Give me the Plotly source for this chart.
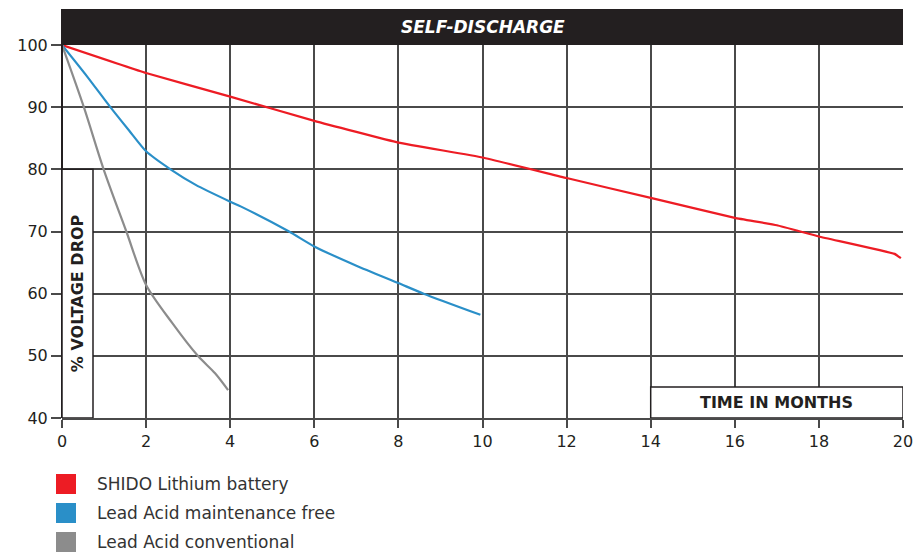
import plotly.graph_objects as go

# ---- data ----
lithium_x = [0, 2, 4, 6, 8, 10, 12, 14, 16, 17, 18, 19.8, 19.95]
lithium_y = [100, 95.5, 91.7, 87.8, 84.3, 81.9, 78.6, 75.4, 72.2, 71.0, 69.2, 66.4, 65.7]

mf_x = [0, 0.59, 1.15, 1.6, 2.0, 2.58, 3.18, 4.0, 4.26, 5.4, 6.0, 7.0, 8.0, 8.6, 9.95]
mf_y = [100, 95.0, 90, 86.2, 82.9, 80, 77.5, 74.8, 74.0, 70, 67.6, 64.5, 61.7, 60, 56.6]

conv_x = [0, 0.52, 0.99, 1.53, 2.0, 2.62, 3.23, 3.64, 3.95]
conv_y = [100, 90, 80, 70, 61.4, 55.3, 50, 47.2, 44.5]

series_names = ["SHIDO Lithium battery", "Lead Acid maintenance free", "Lead Acid conventional"]
series_colors = ["#ED1C24", "#2A8FC8", "#8C8C8C"]

x_ticks = [0, 2, 4, 6, 8, 10, 12, 14, 16, 18, 20]
y_ticks = [40, 50, 60, 70, 80, 90, 100]

title_text = "SELF-DISCHARGE"
y_label = "% VOLTAGE DROP"
x_label = "TIME IN MONTHS"

TXT = "#231F20"
GRID = "#4a4a4a"
FONT = "DejaVu Sans"
PLOT_W, PLOT_H = 841, 373

fig = go.Figure()
for xs, ys, col, smooth in zip([lithium_x, mf_x, conv_x], [lithium_y, mf_y, conv_y],
                               series_colors, [0.3, 0.6, 0.8]):
    fig.add_trace(go.Scatter(x=xs, y=ys, mode="lines",
                             line=dict(color=col, width=2.2, shape="spline", smoothing=smooth),
                             showlegend=False, hoverinfo="skip"))

# title band
fig.add_shape(type="rect", xref="paper", yref="paper", x0=0, x1=1, y0=1, y1=1 + 36 / PLOT_H,
              fillcolor="#231F20", line=dict(width=0), layer="above")
fig.add_annotation(xref="paper", yref="paper", x=0.5, y=1 + 18 / PLOT_H,
                   xanchor="center", yanchor="middle",
                   text="<b><i>" + title_text + "</i></b>",
                   showarrow=False, font=dict(family=FONT, size=17, color="white"))
# left frame line up through title band
fig.add_shape(type="line", xref="paper", yref="paper", x0=0, x1=0, y0=0, y1=1 + 36 / PLOT_H,
              line=dict(color="#231F20", width=2), layer="above")

# y-label box
fig.add_shape(type="rect", xref="paper", yref="y", x0=0, x1=31 / PLOT_W, y0=40, y1=80,
              fillcolor="white", line=dict(color=TXT, width=1.5), layer="above")
fig.add_annotation(xref="paper", yref="y", x=15.5 / PLOT_W, y=60, xanchor="center", yanchor="middle",
                   text="<b>" + y_label + "</b>",
                   textangle=-90, showarrow=False, font=dict(family=FONT, size=16, color=TXT))

# x-label box
fig.add_shape(type="rect", xref="x", yref="y", x0=14, x1=20, y0=40, y1=45,
              fillcolor="white", line=dict(color=TXT, width=1.5), layer="above")
fig.add_annotation(xref="x", yref="y", x=17, y=42.5, xanchor="center", yanchor="middle",
                   text="<b>" + x_label + "</b>",
                   showarrow=False, font=dict(family=FONT, size=16, color=TXT))

# manual legend (squares + labels) below the plot
for i, (name, col) in enumerate(zip(series_names, series_colors)):
    yc = -(66 + 29 * i) / PLOT_H
    fig.add_shape(type="rect", xref="paper", yref="paper",
                  x0=-6 / PLOT_W, x1=14 / PLOT_W, y0=yc - 10 / PLOT_H, y1=yc + 10 / PLOT_H,
                  fillcolor=col, line=dict(width=0))
    fig.add_annotation(xref="paper", yref="paper", x=33 / PLOT_W, y=yc, xanchor="left",
                       yanchor="middle", text=name, showarrow=False,
                       font=dict(family=FONT, size=17, color="#333333"))

# page body has an 8px default margin, so the figure is sized/offset to compensate
fig.update_layout(
    width=913, height=546,
    margin=dict(l=54, r=18, t=37, b=136),
    paper_bgcolor="white", plot_bgcolor="white",
    font=dict(family=FONT, color=TXT),
    showlegend=False,
    xaxis=dict(range=[0, 20], tickvals=x_ticks, showgrid=True, gridcolor=GRID, gridwidth=1.5,
               zeroline=False, showline=True, linecolor=GRID, linewidth=1.5, mirror=False,
               ticks="outside", ticklen=8, tickcolor=GRID, tickwidth=1.5, automargin=False,
               tickfont=dict(family=FONT, size=16, color=TXT), fixedrange=True),
    yaxis=dict(range=[40, 100], tickvals=y_ticks, showgrid=True, gridcolor=GRID, gridwidth=1.5,
               zeroline=False, showline=False, automargin=False,
               ticks="outside", ticklen=10, tickcolor=GRID, tickwidth=1.5,
               tickfont=dict(family=FONT, size=16, color=TXT), fixedrange=True),
)

fig.write_html("out.html")
